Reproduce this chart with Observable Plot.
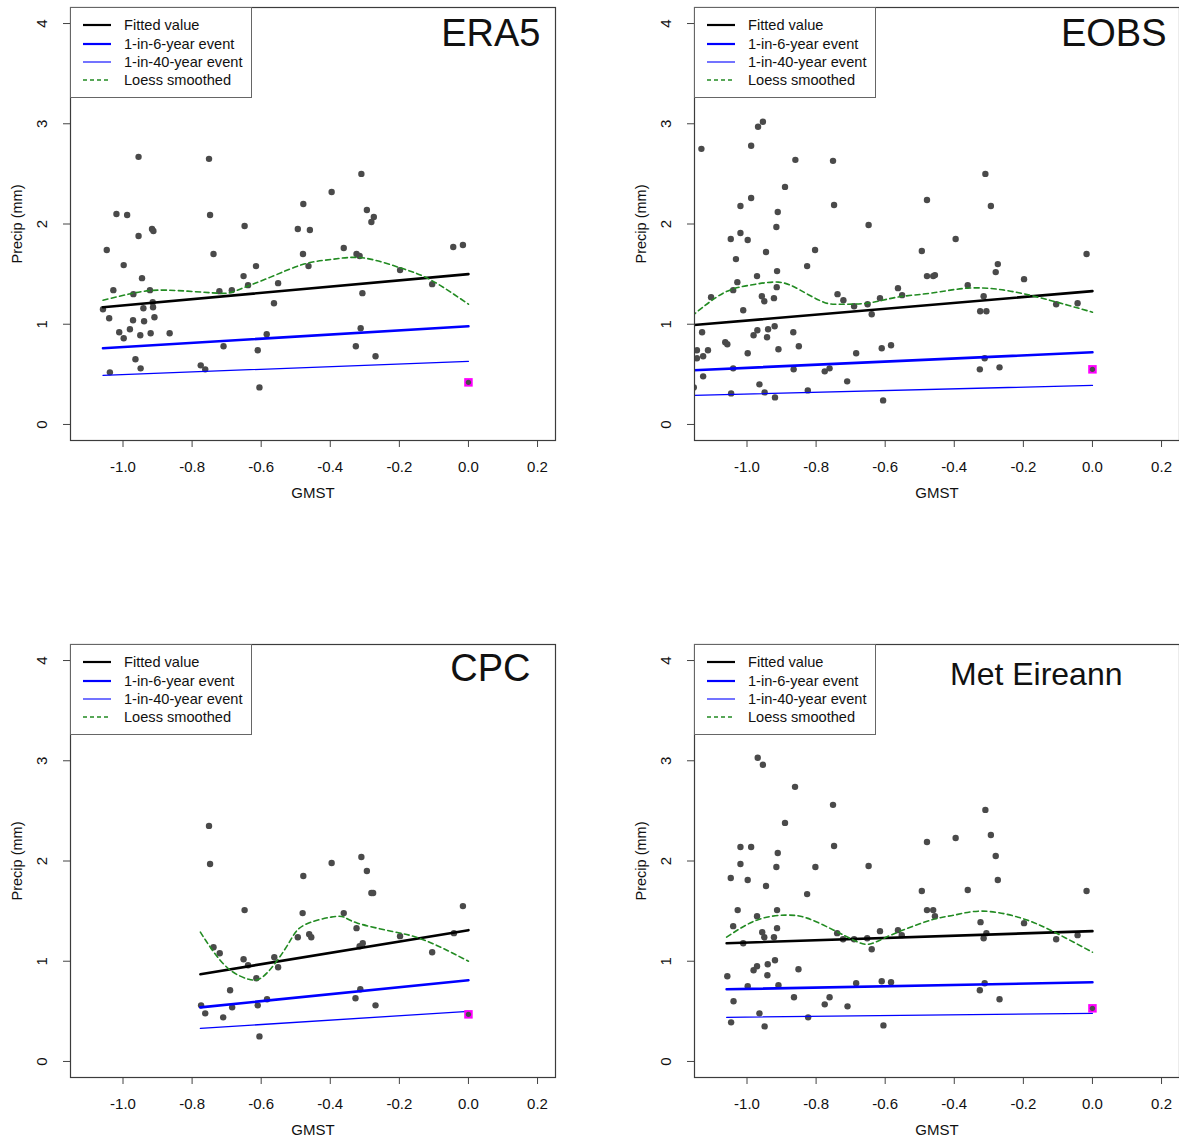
<!DOCTYPE html>
<html>
<head>
<meta charset="utf-8">
<script src="https://cdn.jsdelivr.net/npm/d3@7"></script>
<script src="https://cdn.jsdelivr.net/npm/@observablehq/plot@0.6"></script>
<style>
  html, body { margin: 0; padding: 0; background: #fff; overflow: hidden; }
  #wrap { position: relative; width: 1179px; height: 1144px; overflow: hidden; background: #fff; font-family: "Liberation Sans", Arial, Helvetica, sans-serif; }
  .panel { position: absolute; }
  .legend { position: absolute; left: 70px; top: 7px; width: 182px; height: 91px; border: 1px solid #666; background: #fff; box-sizing: border-box; }
  .legend .row { position: absolute; left: 0; height: 18px; font-size: 14.6px; line-height: 18px; color: #111; white-space: nowrap; }
  .legend .row span { position: absolute; left: 53px; top: 0; }
  .legend .row svg { position: absolute; left: 12px; top: 0; }
</style>
</head>
<body>
<div id="wrap"></div>
<script>
// ---------- shared ticks ----------
const xTicks = [-1.0, -0.8, -0.6, -0.4, -0.2, 0.0, 0.2];
const yTicks = [0, 1, 2, 3, 4];
const legendLabels = ["Fitted value", "1-in-6-year event", "1-in-40-year event", "Loess smoothed"];

// ---------- ERA5 ----------
const era5_gmst = [-0.955,-0.751,-1.019,-0.988,-0.748,-0.916,-0.912,-0.955,-0.648,-0.478,-0.494,-0.459,-1.047,-0.738,-0.998,-0.479,-0.463,-0.615,-0.945,-0.651,-0.638,-0.551,-1.028,-0.970,-0.922,-0.914,-0.721,-0.685,-1.058,-0.941,-0.913,-0.563,-1.040,-0.909,-0.971,-0.939,-0.980,-1.011,-0.998,-0.950,-0.920,-0.865,-0.584,-0.709,-0.610,-0.964,-0.949,-0.775,-0.762,-1.038,-0.605,-0.310,-0.396,-0.294,-0.274,-0.281,-0.361,-0.324,-0.315,-0.044,-0.016,-0.198,-0.105,-0.307,-0.312,-0.326,-0.269];
const era5_precip = [2.67,2.65,2.10,2.09,2.09,1.95,1.93,1.88,1.98,2.20,1.95,1.94,1.74,1.70,1.59,1.70,1.58,1.58,1.46,1.48,1.39,1.41,1.34,1.30,1.34,1.22,1.33,1.34,1.15,1.16,1.17,1.21,1.06,1.07,1.04,1.03,0.95,0.92,0.86,0.89,0.91,0.91,0.90,0.78,0.74,0.65,0.56,0.59,0.55,0.52,0.37,2.50,2.32,2.14,2.07,2.02,1.76,1.70,1.68,1.77,1.79,1.54,1.40,1.31,0.96,0.78,0.68];
const era5_obs = [0.0, 0.42];
const era5_fit_gmst = [-1.058, 0.0];
const era5_fit = [1.17, 1.50];
const era5_rp6 = [0.76, 0.98];
const era5_rp40 = [0.49, 0.63];
const era5_loess_gmst = [-1.058,-0.970,-0.873,-0.728,-0.669,-0.573,-0.476,-0.389,-0.301,-0.195,-0.108,0.0];
const era5_loess = [1.24,1.31,1.34,1.31,1.34,1.47,1.60,1.65,1.66,1.56,1.44,1.20];

// ---------- EOBS ----------
const eobs_gmst = [-0.954,-0.968,-1.132,-0.988,-0.860,-0.751,-0.890,-0.988,-1.019,-0.748,-0.911,-0.915,-1.019,-1.047,-0.998,-0.648,-0.479,-1.032,-0.945,-0.803,-0.494,-0.826,-0.913,-1.028,-0.971,-0.479,-0.461,-0.456,-1.040,-1.104,-0.914,-0.957,-0.950,-0.922,-1.011,-0.738,-0.721,-0.690,-0.651,-0.639,-0.615,-0.563,-0.551,-1.154,-1.130,-0.970,-0.981,-0.939,-0.920,-0.942,-0.866,-1.063,-1.057,-1.145,-1.113,-1.145,-1.127,-0.850,-0.909,-0.998,-0.684,-0.610,-0.583,-1.040,-0.865,-0.775,-0.761,-1.127,-0.964,-0.710,-1.046,-0.949,-0.824,-0.919,-0.606,-0.310,-0.294,-0.396,-0.017,-0.274,-0.280,-0.198,-0.361,-0.315,-0.325,-0.307,-0.105,-0.043,-0.312,-0.326,-0.269];
const eobs_precip = [3.02,2.97,2.75,2.78,2.64,2.63,2.37,2.26,2.18,2.19,2.12,1.97,1.91,1.85,1.84,1.99,2.24,1.65,1.72,1.74,1.73,1.58,1.53,1.42,1.48,1.48,1.48,1.49,1.34,1.27,1.37,1.28,1.23,1.26,1.14,1.30,1.24,1.18,1.20,1.10,1.26,1.36,1.29,0.37,0.92,0.94,0.89,0.95,0.98,0.87,0.92,0.82,0.80,0.74,0.74,0.66,0.68,0.78,0.75,0.71,0.71,0.76,0.79,0.56,0.55,0.53,0.56,0.48,0.40,0.43,0.31,0.32,0.34,0.27,0.24,2.50,2.18,1.85,1.70,1.60,1.52,1.45,1.39,1.28,1.13,1.13,1.20,1.21,0.66,0.55,0.57];
const eobs_obs = [0.0, 0.55];
const eobs_fit_gmst = [-1.16, 0.0];
const eobs_fit = [0.99, 1.33];
const eobs_rp6 = [0.54, 0.72];
const eobs_rp40 = [0.29, 0.39];
const eobs_loess_gmst = [-1.16,-1.069,-0.991,-0.909,-0.846,-0.778,-0.730,-0.652,-0.565,-0.468,-0.361,-0.255,-0.158,-0.071,0.0];
const eobs_loess = [1.08,1.31,1.39,1.42,1.34,1.22,1.20,1.21,1.27,1.31,1.36,1.34,1.27,1.19,1.12];

// ---------- CPC ----------
const cpc_gmst = [-0.751,-0.748,-0.478,-0.396,-0.310,-0.294,-0.281,-0.276,-0.648,-0.480,-0.361,-0.016,-0.324,-0.494,-0.461,-0.455,-0.198,-0.042,-0.738,-0.720,-0.315,-0.306,-0.105,-0.651,-0.638,-0.562,-0.551,-0.614,-0.690,-0.774,-0.762,-0.684,-0.710,-0.610,-0.583,-0.313,-0.327,-0.269,-0.605];
const cpc_precip = [2.35,1.97,1.85,1.98,2.04,1.90,1.68,1.68,1.51,1.48,1.48,1.55,1.33,1.24,1.27,1.24,1.25,1.28,1.14,1.08,1.15,1.18,1.09,1.02,0.96,1.04,0.94,0.83,0.71,0.56,0.48,0.54,0.44,0.56,0.62,0.72,0.63,0.56,0.25];
const cpc_obs = [0.0, 0.47];
const cpc_fit_gmst = [-0.776, 0.0];
const cpc_fit = [0.87, 1.31];
const cpc_rp6 = [0.54, 0.81];
const cpc_rp40 = [0.33, 0.50];
const cpc_loess_gmst = [-0.776,-0.737,-0.689,-0.636,-0.597,-0.553,-0.515,-0.476,-0.398,-0.360,-0.321,-0.224,-0.127,0.0];
const cpc_loess = [1.29,1.09,0.91,0.82,0.84,1.01,1.21,1.36,1.44,1.44,1.38,1.30,1.21,1.00];

// ---------- Met Eireann ----------
const met_gmst = [-0.969,-0.954,-0.861,-0.751,-0.890,-1.019,-0.988,-0.748,-0.911,-1.019,-0.915,-0.802,-0.648,-0.479,-1.047,-0.998,-0.945,-0.826,-0.494,-1.027,-0.913,-0.479,-0.461,-0.456,-0.971,-1.040,-0.913,-0.956,-0.950,-0.922,-1.011,-0.739,-0.722,-0.690,-0.652,-0.639,-0.615,-0.563,-0.552,-0.919,-0.940,-0.971,-0.981,-0.941,-0.851,-1.057,-0.998,-0.909,-0.684,-0.610,-0.583,-1.039,-0.864,-0.775,-0.761,-0.709,-0.964,-1.046,-0.823,-0.949,-0.605,-0.310,-0.396,-0.294,-0.280,-0.274,-0.361,-0.017,-0.324,-0.198,-0.307,-0.315,-0.105,-0.043,-0.312,-0.326,-0.269];
const met_precip = [3.03,2.96,2.74,2.56,2.38,2.14,2.14,2.15,2.08,1.97,1.94,1.94,1.95,2.19,1.83,1.81,1.75,1.67,1.70,1.51,1.51,1.51,1.51,1.45,1.45,1.35,1.33,1.29,1.24,1.24,1.18,1.28,1.22,1.22,1.23,1.12,1.30,1.31,1.26,1.01,0.97,0.95,0.91,0.86,0.92,0.85,0.75,0.76,0.78,0.80,0.79,0.60,0.64,0.57,0.64,0.55,0.48,0.39,0.44,0.35,0.36,2.51,2.23,2.26,2.05,1.81,1.71,1.70,1.39,1.38,1.28,1.23,1.22,1.26,0.78,0.71,0.62];
const met_obs = [0.0, 0.53];
const met_fit_gmst = [-1.059, 0.0];
const met_fit = [1.18, 1.30];
const met_rp6 = [0.72, 0.79];
const met_rp40 = [0.44, 0.48];
const met_loess_gmst = [-1.059,-0.972,-0.890,-0.826,-0.749,-0.691,-0.647,-0.584,-0.468,-0.400,-0.318,-0.206,-0.110,0.0];
const met_loess = [1.24,1.41,1.46,1.43,1.31,1.21,1.17,1.26,1.41,1.46,1.50,1.43,1.29,1.09];

// ---------- panel configuration (layout/style) ----------
const panels = [
  {title: "ERA5", gmst: era5_gmst, precip: era5_precip, obs: era5_obs, fitG: era5_fit_gmst, fit: era5_fit, rp6: era5_rp6, rp40: era5_rp40, loG: era5_loess_gmst, lo: era5_loess, left: 0, top: 0, tdx: -15, tdy: 26, tsize: 38},
  {title: "EOBS", gmst: eobs_gmst, precip: eobs_precip, obs: eobs_obs, fitG: eobs_fit_gmst, fit: eobs_fit, rp6: eobs_rp6, rp40: eobs_rp40, loG: eobs_loess_gmst, lo: eobs_loess, left: 624, top: 0, tdx: -13, tdy: 26, tsize: 38},
  {title: "CPC", gmst: cpc_gmst, precip: cpc_precip, obs: cpc_obs, fitG: cpc_fit_gmst, fit: cpc_fit, rp6: cpc_rp6, rp40: cpc_rp40, loG: cpc_loess_gmst, lo: cpc_loess, left: 0, top: 637, tdx: -25, tdy: 24, tsize: 38},
  {title: "Met Eireann", gmst: met_gmst, precip: met_precip, obs: met_obs, fitG: met_fit_gmst, fit: met_fit, rp6: met_rp6, rp40: met_rp40, loG: met_loess_gmst, lo: met_loess, left: 624, top: 637, tdx: -57, tdy: 30, tsize: 32}
];

const FONT = "'Liberation Sans', Arial, Helvetica, sans-serif";
const wrap = document.getElementById("wrap");

function makePanel(c) {
  const pts = c.gmst.map((g, i) => ({g, p: c.precip[i]}));
  const seg = (vals) => c.fitG.map((g, i) => ({g, v: vals[i]}));
  const loess = c.loG.map((g, i) => ({g, v: c.lo[i]}));
  const obs = [{g: c.obs[0], p: c.obs[1]}];

  const chart = Plot.plot({
    width: 624,
    height: 510,
    marginLeft: 70,
    marginTop: 7,
    marginRight: 69,
    marginBottom: 70,
    style: {fontFamily: FONT, fontSize: "15px", background: "transparent", color: "#111", overflow: "visible"},
    x: {domain: [-1.152, 0.252]},
    y: {domain: [-0.16, 4.16]},
    marks: [
      Plot.axisX({ticks: xTicks, tickSize: 7, tickPadding: 14, tickFormat: d => d.toFixed(1), label: null, stroke: "#444", fontSize: 15}),
      Plot.axisY({ticks: yTicks, tickSize: 7, tickFormat: () => "", label: null, stroke: "#444"}),
      Plot.text(yTicks, {y: d => d, text: d => String(d), frameAnchor: "left", dx: -28, rotate: -90, textAnchor: "middle", fontSize: 15, fill: "#111"}),
      Plot.text(["GMST"], {frameAnchor: "bottom", dy: 57, fontSize: 15, fill: "#111"}),
      Plot.text(["Precip (mm)"], {frameAnchor: "left", dx: -53, rotate: -90, textAnchor: "middle", fontSize: 14.5, fill: "#111"}),
      Plot.dot(pts, {x: "g", y: "p", r: 3.2, fill: "#4a4a4a", clip: true}),
      Plot.line(seg(c.fit), {x: "g", y: "v", stroke: "#000", strokeWidth: 2.6, clip: true}),
      Plot.line(seg(c.rp6), {x: "g", y: "v", stroke: "#0000ff", strokeWidth: 2.6, clip: true}),
      Plot.line(seg(c.rp40), {x: "g", y: "v", stroke: "#0000ff", strokeWidth: 1.3, clip: true}),
      Plot.line(loess, {x: "g", y: "v", stroke: "#228b22", strokeWidth: 1.6, strokeDasharray: "5,3.5", curve: "natural", clip: true}),
      Plot.dot(obs, {x: "g", y: "p", r: 4.8, symbol: "square", fill: "#ff00ff"}),
      Plot.dot(obs, {x: "g", y: "p", r: 2.6, fill: "#4a4a4a"}),
      Plot.frame({stroke: "#3c3c3c", strokeWidth: 1.2}),
      Plot.text([c.title], {frameAnchor: "top-right", dx: c.tdx, dy: c.tdy, textAnchor: "end", lineAnchor: "middle", fontSize: c.tsize, fill: "#111"})
    ]
  });

  const div = document.createElement("div");
  div.className = "panel";
  div.style.left = c.left + "px";
  div.style.top = c.top + "px";
  div.style.width = "624px";
  div.style.height = "510px";
  div.appendChild(chart);

  // legend (drawn over the plot, top-left of the box)
  const lg = document.createElement("div");
  lg.className = "legend";
  const styles = [
    {stroke: "#000", w: 2.2, dash: null},
    {stroke: "#0000ff", w: 2.2, dash: null},
    {stroke: "#0000ff", w: 1.1, dash: null},
    {stroke: "#228b22", w: 1.4, dash: "4,3"}
  ];
  const rowTops = [8, 27, 45, 63];
  legendLabels.forEach((lab, i) => {
    const row = document.createElement("div");
    row.className = "row";
    row.style.top = rowTops[i] + "px";
    const s = styles[i];
    row.innerHTML = `<svg width="30" height="18"><line x1="0" x2="28" y1="9" y2="9" stroke="${s.stroke}" stroke-width="${s.w}" ${s.dash ? `stroke-dasharray="${s.dash}"` : ""}/></svg><span>${lab}</span>`;
    lg.appendChild(row);
  });
  div.appendChild(lg);
  wrap.appendChild(div);
}

panels.forEach(makePanel);
</script>
</body>
</html>
